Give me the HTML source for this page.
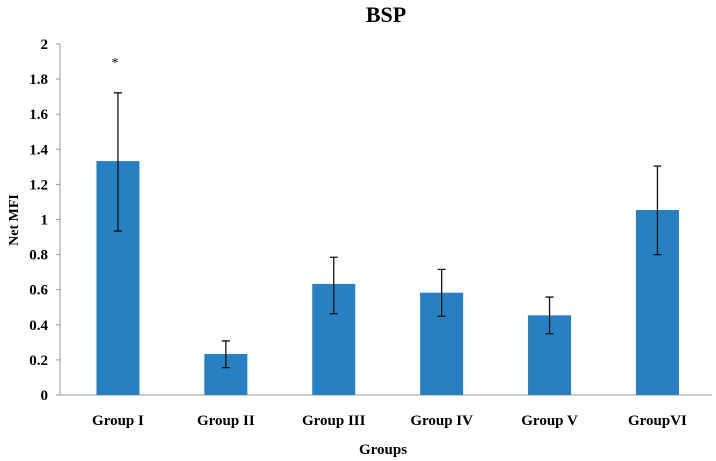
<!DOCTYPE html>
<html><head><meta charset="utf-8"><style>
body{margin:0;background:#fff;}
svg{display:block;font-family:"Liberation Serif",serif;font-weight:bold;}
</style></head><body>
<svg id="chart" width="716" height="461" viewBox="0 0 716 461" xmlns="http://www.w3.org/2000/svg">
<text x="386" y="22" text-anchor="middle" font-size="22">BSP</text>
<text transform="translate(18,220) rotate(-90)" text-anchor="middle" font-size="14">Net MFI</text>
<text x="383" y="454" text-anchor="middle" font-size="15">Groups</text>
<g id="g"></g>
</svg>
<script>
const categories=["Group I","Group II","Group III","Group IV","Group V","GroupVI"];
const values=[1.333,0.234,0.633,0.583,0.454,1.054];
const errHigh=[1.722,0.308,0.785,0.716,0.558,1.305];
const errLow=[0.934,0.156,0.463,0.448,0.349,0.80];
const yTicks=[0,0.2,0.4,0.6,0.8,1,1.2,1.4,1.6,1.8,2];
const yTickLabels=["0","0.2","0.4","0.6","0.8","1","1.2","1.4","1.6","1.8","2"];
const ns="http://www.w3.org/2000/svg";
const g=document.getElementById('g');
const y0=395,yTop=44,yMax=2,x0=64,band=107.9,bw=43;
const y=v=>y0-(v/yMax)*(y0-yTop);
const xc=i=>x0+band*(i+0.5);
function mk(t,a){const e=document.createElementNS(ns,t);for(const k in a)e.setAttribute(k,a[k]);g.appendChild(e);return e;}
let ax=mk('line',{x1:60,y1:y(yMax),x2:60,y2:y0,stroke:'#999','stroke-width':1});


let bx=mk('line',{x1:60,y1:y0,x2:712,y2:y0,stroke:'#999','stroke-width':1});


yTicks.forEach((t,i)=>{
 let tk=mk('line',{x1:56,y1:y(t),x2:60,y2:y(t),stroke:'#999'});
 
 
 let tl=mk('text',{x:48,y:y(t)+5,'text-anchor':'end','font-size':15});
 tl.textContent=yTickLabels[i];
 
 
});
categories.forEach((c,i)=>{
 const cx=xc(i);
 let r=mk('rect',{x:cx-bw/2,y:y(values[i]),width:bw,height:y0-y(values[i]),fill:'#2680c2'});
 
 
 let e=mk('path',{d:`M${cx},${y(errHigh[i])}V${y(errLow[i])}M${cx-4},${y(errHigh[i])}H${cx+4}M${cx-4},${y(errLow[i])}H${cx+4}`,stroke:'#111','stroke-width':1.3,fill:'none'});
 
 
 let l=mk('text',{x:cx,y:425,'text-anchor':'middle','font-size':15});
 l.textContent=c;
 
 
});
let s=mk('text',{x:xc(0)-3,y:67,'text-anchor':'middle','font-size':14,'font-weight':'normal'});
s.textContent='*';


</script>
</body></html>
